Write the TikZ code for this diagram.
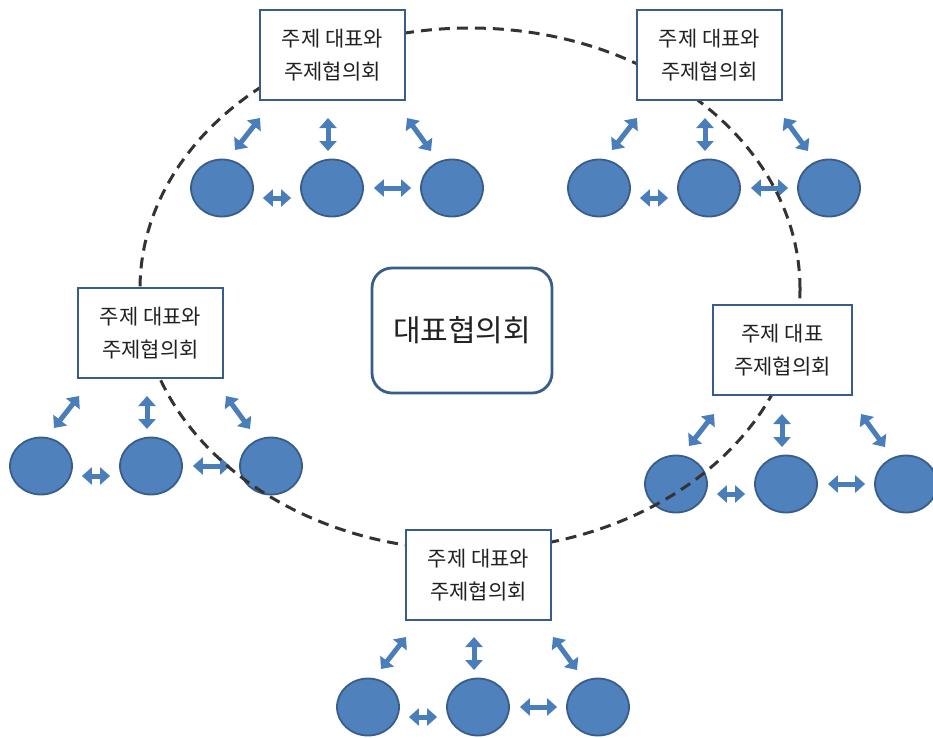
\documentclass[tikz,border=0pt]{standalone}
\usepackage{fontspec}
\setmainfont{Noto Sans CJK KR}
\usetikzlibrary{arrows.meta,shapes.geometric}
\definecolor{boxc}{HTML}{385D8A}
\definecolor{dotf}{HTML}{4F81BD}
\definecolor{dotb}{HTML}{385D8A}
\definecolor{arr}{HTML}{4A7EBB}
\definecolor{ringc}{HTML}{333333}
\definecolor{txt}{HTML}{222222}
\newcommand\grpdots[3]{%
  \node[dot] (#1a) at (#2-110,#3+133) {};
  \node[dot] (#1b) at (#2,#3+133) {};
  \node[dot] (#1c) at (#2+120,#3+133) {};
  \coordinate (#1p1) at (#2-72,#3+63);  \coordinate (#1q1) at (#2-97,#3+95);
  \coordinate (#1p2) at (#2-4,#3+63);   \coordinate (#1q2) at (#2-4,#3+96);
  \coordinate (#1p3) at (#2+75,#3+63);  \coordinate (#1q3) at (#2+99,#3+96);
  \draw[dbl] (#1p1) -- (#1q1);
  \draw[dbl] (#1p2) -- (#1q2);
  \draw[dbl] (#1p3) -- (#1q3);
  \draw[dbl,shorten <=9pt,shorten >=9pt] ([yshift=-10pt]#1a.east) -- ([yshift=-10pt]#1b.west);
  \draw[dbl,shorten <=10pt,shorten >=9pt] (#1b.east) -- (#1c.west);
}
\begin{document}
\begin{tikzpicture}[x=1pt,y=-1pt,
  topicbox/.style={draw=boxc, line width=2.8pt, fill=white, minimum width=145pt,
    minimum height=90pt, align=center, text=txt, font=\fontsize{21}{33}\selectfont, inner sep=0pt},
  dot/.style={ellipse, draw=dotb, line width=1.8pt, fill=dotf, minimum width=62pt,
    minimum height=57pt, inner sep=0pt},
  dbl/.style={draw=arr, line width=5pt,
    {Triangle[length=10pt,width=17pt]}-{Triangle[length=10pt,width=17pt]}},
  ring/.style={draw=ringc, line width=3pt, dash pattern=on 11pt off 7pt}]
\useasboundingbox (0,0) rectangle (933,737);
% member groups
\grpdots{tl}{332}{55}
\grpdots{tr}{709}{55}
\grpdots{l}{151}{333}
\grpdots{r}{786}{351}
\grpdots{b}{478}{574}
% dashed ring
\draw[ring] (470,289) ellipse [x radius=330pt, y radius=261pt];
% boxes
\node[topicbox] (tlbox) at (332.5,55) {주제 대표와\\주제협의회};
\node[topicbox] (trbox) at (709.5,55) {주제 대표와\\주제협의회};
\node[topicbox] (lbox) at (150.5,333) {주제 대표와\\주제협의회};
\node[topicbox, minimum width=139pt] (rbox) at (782.5,350) {주제 대표\\주제협의회};
\node[topicbox] (bbox) at (478.5,575) {주제 대표와\\주제협의회};
\node[draw=boxc, line width=2.8pt, fill=white, rounded corners=20pt, minimum width=180pt,
  minimum height=125pt, text=txt, font=\fontsize{30}{34}\selectfont] (center) at (462,330.5) {대표협의회};
\end{tikzpicture}
\end{document}
